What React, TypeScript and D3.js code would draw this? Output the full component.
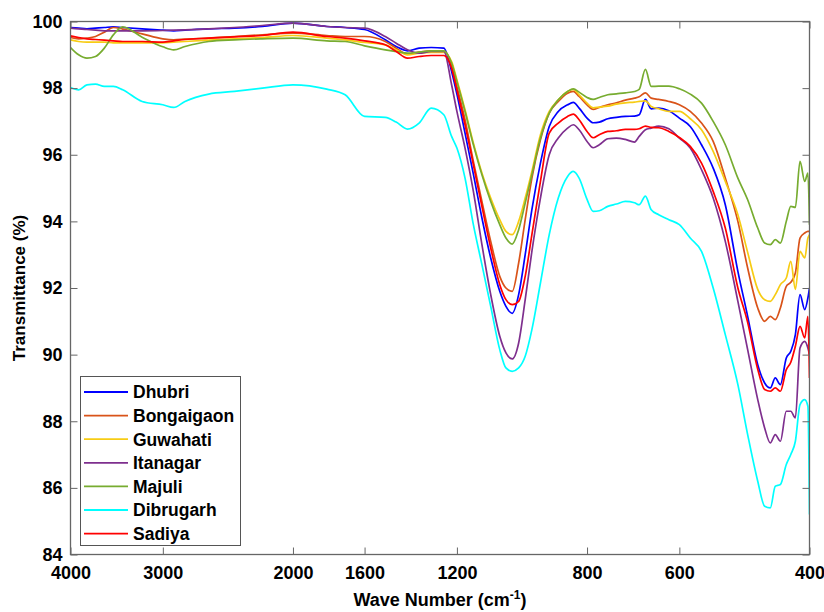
import React, { useEffect, useRef } from 'react';
import * as d3 from 'd3';

// wave numbers (cm-1) shared by all samples
const waveNumbers = [
  4000, 3900, 3800, 3700, 3600, 3500, 3400, 3200, 3000, 2900, 2800, 2600, 2400, 2200, 2000, 1800, 1700, 1600,
  1500, 1450, 1400, 1350, 1300, 1250, 1220, 1200, 1170, 1140, 1110, 1080, 1050, 1030, 1010, 990, 970, 950,
  925, 900, 875, 850, 835, 820, 800, 785, 770, 750, 730, 710, 690, 680, 667, 655, 640, 620,
  600, 580, 560, 540, 520, 500, 485, 470, 460, 452, 445, 438, 430, 424, 418, 412, 406, 402, 400,
];

const dhubri = [
  99.82, 99.8, 99.78, 99.8, 99.82, 99.84, 99.82, 99.78, 99.74, 99.72, 99.74, 99.78, 99.8, 99.85, 99.95, 99.85, 99.82, 99.76,
  99.45, 99.25, 99.12, 99.2, 99.22, 99.2, 98.5, 97.82, 96.65, 95.42, 94.1, 92.9, 91.9, 91.45, 91.24, 91.8, 93.0, 94.35,
  95.75, 96.85, 97.3, 97.5, 97.57, 97.4, 97.1, 96.96, 96.98, 97.08, 97.12, 97.15, 97.16, 97.2, 97.66, 97.38, 97.4, 97.32,
  97.1, 96.85, 96.3, 95.6, 94.5, 92.5, 91.15, 89.7, 89.15, 89.0, 89.3, 89.1, 89.9, 90.1, 90.6, 91.8, 91.35, 91.7, 92.0,
];

const bongaigaon = [
  99.52, 99.48, 99.5, 99.55, 99.68, 99.82, 99.77, 99.63, 99.48, 99.45, 99.47, 99.5, 99.55, 99.6, 99.65, 99.58, 99.55, 99.55,
  99.4, 99.2, 99.02, 99.08, 99.12, 99.12, 98.7, 98.05, 97.05, 95.8, 94.6, 93.4, 92.35, 92.0, 91.9, 92.75, 94.05, 95.3,
  96.45, 97.25, 97.6, 97.85, 97.9, 97.75, 97.5, 97.36, 97.42, 97.5, 97.56, 97.64, 97.7, 97.74, 97.86, 97.7, 97.66, 97.6,
  97.5, 97.3, 96.95, 96.4, 95.3, 94.0, 92.6, 91.4, 91.0, 91.15, 91.05, 91.4, 92.05, 92.17, 92.45, 93.5, 93.65, 93.7, 93.7,
];

const guwahati = [
  99.45, 99.4, 99.38, 99.38, 99.38, 99.36, 99.36, 99.36, 99.36, 99.38, 99.4, 99.44, 99.48, 99.52, 99.58, 99.5, 99.45, 99.37,
  99.3, 99.15, 99.0, 99.05, 99.07, 99.07, 98.8, 98.25, 97.35, 96.35, 95.45, 94.7, 94.05, 93.7, 93.6, 94.0, 94.7, 95.5,
  96.6, 97.3, 97.65, 97.9, 97.96, 97.8, 97.55, 97.41, 97.43, 97.46, 97.52, 97.56, 97.58, 97.6, 97.62, 97.45, 97.38, 97.3,
  97.3, 97.08, 96.75, 96.1, 95.2, 94.2, 93.07, 91.96, 91.65, 91.6, 91.8, 92.1, 92.3, 92.8, 91.96, 93.1, 92.9, 93.5, 93.6,
];

const itanagar = [
  99.8, 99.78, 99.76, 99.74, 99.72, 99.72, 99.72, 99.72, 99.73, 99.74, 99.75, 99.78, 99.82, 99.88, 99.95, 99.85, 99.82, 99.8,
  99.55, 99.35, 99.15, 99.05, 99.1, 99.1, 98.1, 97.3, 96.2, 94.9, 93.3, 91.8, 90.55, 90.05, 89.87, 90.35, 91.65, 93.1,
  94.7, 96.0, 96.5, 96.8, 96.9, 96.75, 96.4, 96.21, 96.3, 96.48, 96.5, 96.46, 96.38, 96.55, 96.75, 96.8, 96.86, 96.78,
  96.5, 96.2, 95.55, 94.7, 93.4, 91.6, 90.15, 88.65, 87.8, 87.35, 87.6, 87.4, 88.3, 88.3, 88.1, 90.2, 90.4, 90.2, 90.0,
];

const majuli = [
  99.22, 99.0, 98.9, 98.95, 99.2, 99.6, 99.84, 99.53, 99.24, 99.15, 99.25, 99.4, 99.45, 99.48, 99.5, 99.42, 99.4, 99.27,
  99.15, 99.1, 99.05, 99.08, 99.12, 99.12, 98.75, 98.2, 97.3, 96.3, 95.4, 94.6, 93.9, 93.5, 93.32, 93.75, 94.55, 95.4,
  96.5, 97.25, 97.65, 97.9, 97.98, 97.88, 97.72, 97.66, 97.72, 97.8, 97.83, 97.86, 97.9, 97.96, 98.56, 98.05, 98.06, 98.06,
  97.98, 97.82, 97.55, 97.0, 96.3, 95.3, 94.65, 93.8, 93.35, 93.3, 93.45, 93.35, 94.0, 94.45, 94.42, 95.8, 95.2, 95.45, 93.9,
];

const dibrugarh = [
  98.02, 97.95, 98.1, 98.12, 98.05, 98.05, 97.95, 97.6, 97.5, 97.42, 97.6, 97.82, 97.9, 98.0, 98.1, 97.97, 97.8, 97.15,
  97.12, 96.98, 96.77, 96.95, 97.4, 97.2, 96.55, 96.2, 95.3, 93.9, 92.7, 91.45, 90.15, 89.6, 89.5, 89.6, 89.95, 90.75,
  92.15, 93.6, 94.7, 95.35, 95.5, 95.3, 94.66, 94.3, 94.32, 94.45, 94.52, 94.6, 94.56, 94.5, 94.76, 94.35, 94.2, 94.05,
  93.9, 93.5, 93.1, 92.0, 90.6, 89.1, 87.6, 86.2, 85.45, 85.4, 86.05, 86.1, 86.7, 87.0, 87.4, 88.5, 88.65, 88.45, 85.2,
];

const sadiya = [
  99.57, 99.52, 99.48, 99.46, 99.44, 99.42, 99.4, 99.4, 99.38, 99.42, 99.46, 99.5, 99.54, 99.58, 99.68, 99.55, 99.5, 99.42,
  99.3, 99.1, 98.9, 98.95, 98.98, 98.98, 98.6, 97.95, 96.9, 95.7, 94.45, 93.2, 92.1, 91.65, 91.5, 91.6, 92.35, 93.6,
  95.2, 96.65, 96.95, 97.15, 97.22, 97.05, 96.7, 96.51, 96.6, 96.7, 96.72, 96.76, 96.76, 96.78, 96.86, 96.82, 96.81, 96.7,
  96.52, 96.25, 95.75, 94.9, 93.8, 92.0, 90.97, 89.56, 88.95, 88.9, 89.0, 88.9, 89.55, 89.77, 90.25, 90.85, 90.5, 91.15, 89.3,
];

const seriesNames = ['Dhubri', 'Bongaigaon', 'Guwahati', 'Itanagar', 'Majuli', 'Dibrugarh', 'Sadiya'];
const seriesValues = [dhubri, bongaigaon, guwahati, itanagar, majuli, dibrugarh, sadiya];
const seriesColors = ['#0000ff', '#d95319', '#f7cc14', '#7e2f8e', '#77ac30', '#00ffff', '#ff0000'];

const xTicks = [4000, 3000, 2000, 1600, 1200, 800, 600, 400];
const yTicks = [84, 86, 88, 90, 92, 94, 96, 98, 100];

const W = 824;
const H = 612;
const left = 70.5;
const right = 809.5;
const top = 21.5;
const bottom = 554.5;
const font = '"Liberation Sans", Arial, sans-serif';

function App() {
  const ref = useRef<SVGSVGElement>(null);

  useEffect(() => {
    document.body.style.margin = '0';
    const svg = d3.select(ref.current);
    svg.selectAll('*').remove();

    const x = d3.scaleLog().domain([4000, 400]).range([left, right]);
    const y = d3.scaleLinear().domain([84, 100]).range([bottom, top]);

    svg.append('rect').attr('width', W).attr('height', H).attr('fill', '#fff');

    svg
      .append('clipPath')
      .attr('id', 'plot')
      .append('rect')
      .attr('x', left)
      .attr('y', top)
      .attr('width', right - left)
      .attr('height', bottom - top);

    const line = d3
      .line<number>()
      .x((d, i) => x(waveNumbers[i]))
      .y(d => y(d))
      .curve(d3.curveMonotoneX);

    const lines = svg.append('g').attr('clip-path', 'url(#plot)');
    seriesValues.forEach((vals, k) => {
      lines
        .append('path')
        .attr('d', line(vals))
        .attr('fill', 'none')
        .attr('stroke', seriesColors[k])
        .attr('stroke-width', 1.7)
        .attr('stroke-linejoin', 'round');
    });

    const styleAxis = (g: any) => {
      g.select('.domain').remove();
      g.selectAll('line').attr('stroke', '#666').attr('stroke-width', 1);
      g.selectAll('text')
        .attr('fill', '#000')
        .attr('font-family', font)
        .attr('font-weight', 'bold')
        .attr('font-size', 18);
    };

    svg
      .append('g')
      .attr('transform', `translate(0,${bottom})`)
      .call(d3.axisBottom(x).tickValues(xTicks).tickFormat(d3.format('d')).tickSizeInner(-7).tickSizeOuter(0).tickPadding(12))
      .call(styleAxis);
    svg
      .append('g')
      .attr('transform', `translate(0,${top})`)
      .call(d3.axisTop(x).tickValues(xTicks).tickFormat(() => '').tickSizeInner(-7).tickSizeOuter(0))
      .call(styleAxis);
    svg
      .append('g')
      .attr('transform', `translate(${left},0)`)
      .call(d3.axisLeft(y).tickValues(yTicks).tickSizeInner(-7).tickSizeOuter(0).tickPadding(8))
      .call(styleAxis);
    svg
      .append('g')
      .attr('transform', `translate(${right},0)`)
      .call(d3.axisRight(y).tickValues(yTicks).tickFormat(() => '').tickSizeInner(-7).tickSizeOuter(0))
      .call(styleAxis);

    svg
      .append('rect')
      .attr('x', left)
      .attr('y', top)
      .attr('width', right - left)
      .attr('height', bottom - top)
      .attr('fill', 'none')
      .attr('stroke', '#666')
      .attr('stroke-width', 1.3);

    // axis titles
    const xt = svg
      .append('text')
      .attr('x', (left + right) / 2)
      .attr('y', 606)
      .attr('text-anchor', 'middle')
      .attr('font-family', font)
      .attr('font-weight', 'bold')
      .attr('font-size', 18);
    xt.append('tspan').text('Wave Number (cm');
    xt.append('tspan').attr('font-size', 12).attr('dy', -7).text('-1');
    xt.append('tspan').attr('dy', 7).text(')');

    svg
      .append('text')
      .attr('transform', `translate(25,${(top + bottom) / 2}) rotate(-90)`)
      .attr('text-anchor', 'middle')
      .attr('font-family', font)
      .attr('font-weight', 'bold')
      .attr('font-size', 17)
      .text('Transmittance (%)');

    // legend
    const lg = svg.append('g');
    lg.append('rect')
      .attr('x', 80.5)
      .attr('y', 376.5)
      .attr('width', 160)
      .attr('height', 169)
      .attr('fill', '#fff')
      .attr('stroke', '#555')
      .attr('stroke-width', 1);
    seriesNames.forEach((name, k) => {
      const cy = 392 + k * 23.6;
      lg.append('line')
        .attr('x1', 84)
        .attr('x2', 128)
        .attr('y1', cy)
        .attr('y2', cy)
        .attr('stroke', seriesColors[k])
        .attr('stroke-width', 1.8);
      lg.append('text')
        .attr('x', 133)
        .attr('y', cy)
        .attr('dy', '0.36em')
        .attr('font-family', font)
        .attr('font-weight', 'bold')
        .attr('font-size', 17.5)
        .attr('fill', '#000')
        .text(name);
    });
  }, []);

  return <svg ref={ref} width={W} height={H} style={{ display: 'block' }} />;
}

export default App;
